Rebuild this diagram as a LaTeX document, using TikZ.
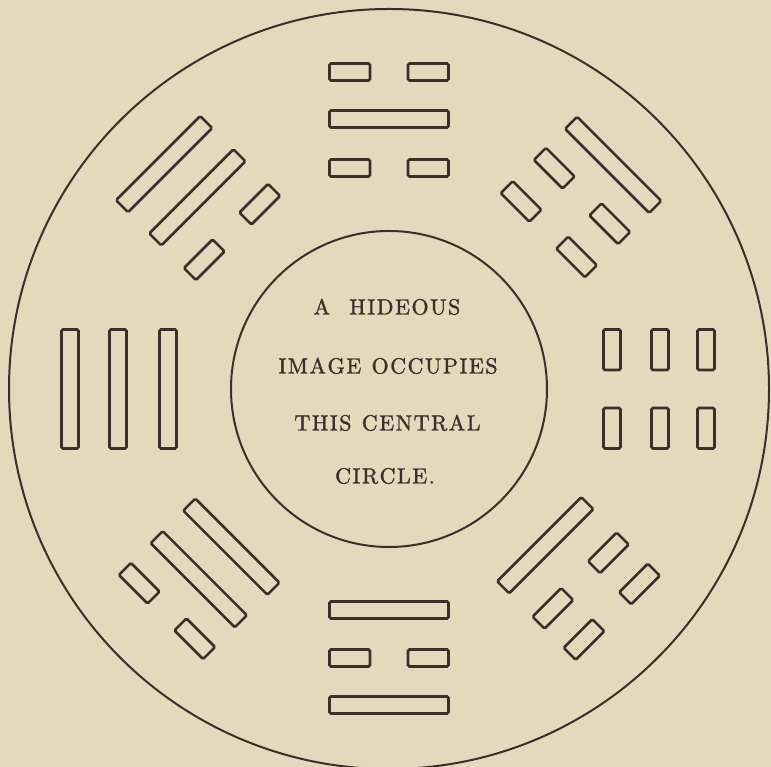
\documentclass[tikz,border=0pt]{standalone}
\usepackage{fontspec}
\newfontfamily\capsfont{lmroman10-regular.otf}[FakeBold=1.4]
\definecolor{paper}{RGB}{229,216,188}
\definecolor{ink}{RGB}{60,46,42}
\makeatletter
\newcommand\tracked[1]{\@tfor\tr@c:=#1\do{\tr@c\kern1.5pt}\unkern}
\makeatother
\newcommand\solidbar[1]{\draw[trig] (-59.5,#1-8.5) rectangle (59.5,#1+8.5);}
\newcommand\brokenbar[1]{\draw[trig] (-59.5,#1-8.5) rectangle (-19,#1+8.5);\draw[trig] (19,#1-8.5) rectangle (59.5,#1+8.5);}
\begin{document}
\begin{tikzpicture}[x=1pt,y=1pt,
  trig/.style={draw=ink, line width=2.6pt, rounded corners=1.5pt},
  ring/.style={draw=ink, line width=2pt},
  label/.style={text=ink, font=\capsfont\fontsize{22}{26}\selectfont, inner sep=0pt, anchor=base}]
\fill[paper] (0,0) rectangle (771,767);
\useasboundingbox (0,0) rectangle (771,767);
\coordinate (c) at (389,378);
\draw[ring] (c) circle (380pt);
\draw[ring] (c) circle (158pt);
% top (90)
\begin{scope}[shift={(c)}, rotate=0]
\brokenbar{221}\solidbar{270}\brokenbar{317}
\end{scope}
% top-left (135)
\begin{scope}[shift={(c)}, rotate=45]
\brokenbar{222}\solidbar{271}\solidbar{318}
\end{scope}
% left (180)
\begin{scope}[shift={(c)}, rotate=90]
\solidbar{221}\solidbar{271}\solidbar{319}
\end{scope}
% bottom-left (225)
\begin{scope}[shift={(c)}, rotate=135]
\solidbar{223}\solidbar{269}\brokenbar{314}
\end{scope}
% bottom (270)
\begin{scope}[shift={(c)}, rotate=180]
\solidbar{221}\brokenbar{269}\solidbar{316}
\end{scope}
% bottom-right (315)
\begin{scope}[shift={(c)}, rotate=225]
\solidbar{221}\brokenbar{271}\brokenbar{315}
\end{scope}
% right (0)
\begin{scope}[shift={(c)}, rotate=270]
\brokenbar{223}\brokenbar{271}\brokenbar{317}
\end{scope}
% top-right (45)
\begin{scope}[shift={(c)}, rotate=315]
\brokenbar{226}\brokenbar{273}\solidbar{317}
\end{scope}
\node[label] (l1) at (387,452.5) {\tracked{A\ \ HIDEOUS}};
\node[label] (l2) at (388,393.5) {\tracked{IMAGE\ OCCUPIES}};
\node[label] (l3) at (387.5,336.5) {\tracked{THIS\ CENTRAL}};
\node[label] (l4) at (385,283.5) {\tracked{CIRCLE.}};
\end{tikzpicture}
\end{document}
